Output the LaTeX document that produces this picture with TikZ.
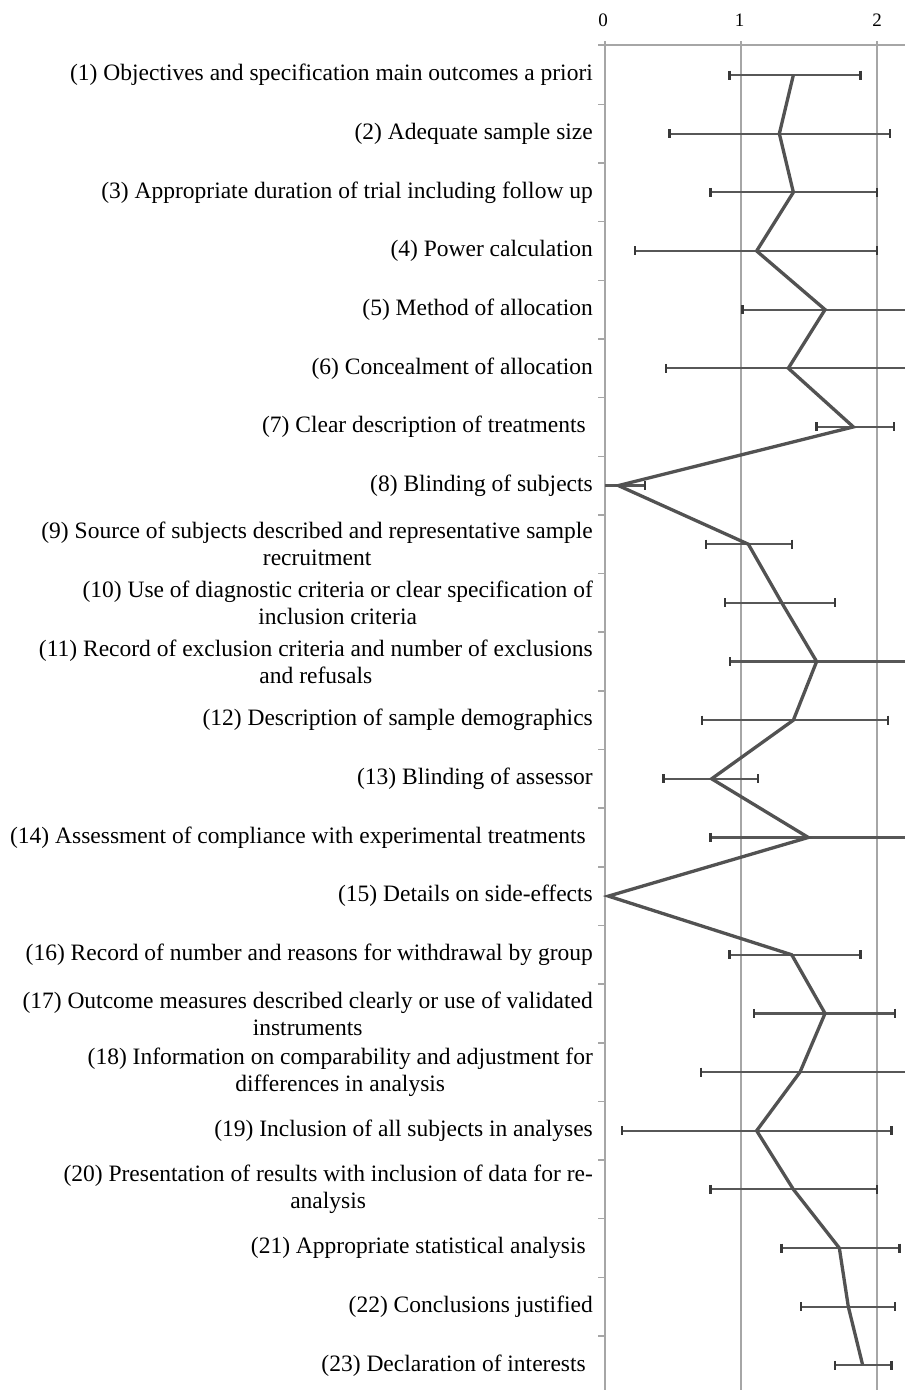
\documentclass[tikz,border=0pt]{standalone}
\usepackage{fontspec}
\setmainfont{Liberation Serif}
\begin{document}
\begin{tikzpicture}[x=1pt,y=-1pt]
\tikzset{
  gridln/.style={draw=black!35, line width=1.7pt},
  axln/.style={draw=black!35, line width=1.5pt},
  ebar/.style={draw=black!66, line width=2.2pt},
  ebcap/.style={draw=black!78, line width=2.4pt},
  meanln/.style={draw=black!68, line width=3.3pt, line join=miter, miter limit=4},
  lab/.style={anchor=east, align=center, inner sep=0pt, font=\fontsize{23.5}{27}\selectfont},
  ticklab/.style={inner sep=0pt, font=\fontsize{19}{22}\selectfont}
}
\useasboundingbox (0,0) rectangle (905,1390);
\fill[white] (0,0) rectangle (905,1390);
% axis and grid
\draw[axln] (598,45) -- (905,45);
\draw[axln] (605,41) -- (605,1390);
\draw[gridln] (741,41) -- (741,1390);
\draw[gridln] (877,41) -- (877,1390);
\foreach \k in {1,...,23}{
  \pgfmathsetmacro\ty{45.7+\k*58.65}
  \draw[axln] (598,\ty) -- (605,\ty);
}
\node[ticklab] (t0) at (603,20) {0};
\node[ticklab] (t1) at (739.5,20) {1};
\node[ticklab] (t2) at (877,20) {2};
% data coordinates
\foreach \i/\m/\lo/\hi in {1/1.385/0.914/1.88, 2/1.282/0.473/2.096, 3/1.385/0.777/2.0, 4/1.115/0.22/2.0,
  5/1.618/1.012/2.4, 6/1.348/0.449/2.4, 7/1.826/1.556/2.125, 8/0.098/-0.2/0.294,
  9/1.054/0.743/1.373, 10/1.30/0.882/1.691, 11/1.556/0.919/2.4, 12/1.385/0.711/2.083,
  13/0.784/0.429/1.127, 14/1.495/0.777/2.4, 15/0.025/0.025/0.025, 16/1.373/0.914/1.88,
  17/1.618/1.096/2.132, 18/1.434/0.706/2.25, 19/1.115/0.123/2.108, 20/1.385/0.777/2.0,
  21/1.723/1.299/2.164, 22/1.789/1.439/2.132, 23/1.895/1.691/2.108}{
  \pgfmathsetmacro\yy{75+(\i-1)*58.65}
  \coordinate (m\i) at ({605+136*\m},\yy);
  \coordinate (l\i) at ({605+136*\lo},\yy);
  \coordinate (h\i) at ({605+136*\hi},\yy);
}
% error bars
\begin{scope}
\clip (605,0) rectangle (905,1390);
\foreach \i in {1,...,14,16,17,...,23}{
  \draw[ebar] (l\i) -- (h\i);
  \draw[ebcap] ([yshift=4.5pt]l\i) -- ([yshift=-4.5pt]l\i);
  \draw[ebcap] ([yshift=4.5pt]h\i) -- ([yshift=-4.5pt]h\i);
}
\end{scope}
% mean line
\draw[meanln] (m1) \foreach \i in {2,...,23}{ -- (m\i)};
% labels
\node[lab] (lab1) at (593,75) {(1) Objectives and specification main outcomes a priori};
\node[lab] (lab2) at (593,133.65) {(2) Adequate sample size};
\node[lab] (lab3) at (593,192.3) {(3) Appropriate duration of trial including follow up};
\node[lab] (lab4) at (593,250.95) {(4) Power calculation};
\node[lab] (lab5) at (593,309.6) {(5) Method of allocation};
\node[lab] (lab6) at (593,368.25) {(6) Concealment of allocation};
\node[lab] (lab7) at (593,426.9) {(7) Clear description of treatments\kern0.3em};
\node[lab] (lab8) at (593,485.55) {(8) Blinding of subjects};
\node[lab] (lab9) at (593,544.2) {(9) Source of subjects described and representative sample\\recruitment};
\node[lab] (lab10) at (593,602.85) {(10) Use of diagnostic criteria or clear specification of\\inclusion criteria};
\node[lab] (lab11) at (593,661.5) {(11) Record of exclusion criteria and number of exclusions\\and refusals};
\node[lab] (lab12) at (593,720.15) {(12) Description of sample demographics};
\node[lab] (lab13) at (593,778.8) {(13) Blinding of assessor};
\node[lab] (lab14) at (593,837.45) {(14) Assessment of compliance with experimental treatments\kern0.3em};
\node[lab] (lab15) at (593,896.1) {(15) Details on side-effects};
\node[lab] (lab16) at (593,954.75) {(16) Record of number and reasons for withdrawal by group};
\node[lab] (lab17) at (593,1013.4) {(17) Outcome measures described clearly or use of validated\\instruments};
\node[lab] (lab18) at (593,1072.05) {(18) Information on comparability and adjustment for\\differences in analysis};
\node[lab] (lab19) at (593,1130.7) {(19) Inclusion of all subjects in analyses};
\node[lab] (lab20) at (593,1189.35) {(20) Presentation of results with inclusion of data for re-\\analysis};
\node[lab] (lab21) at (593,1248) {(21) Appropriate statistical analysis\kern0.3em};
\node[lab] (lab22) at (593,1306.65) {(22) Conclusions justified};
\node[lab] (lab23) at (593,1365.3) {(23) Declaration of interests\kern0.3em};
\end{tikzpicture}
\end{document}
